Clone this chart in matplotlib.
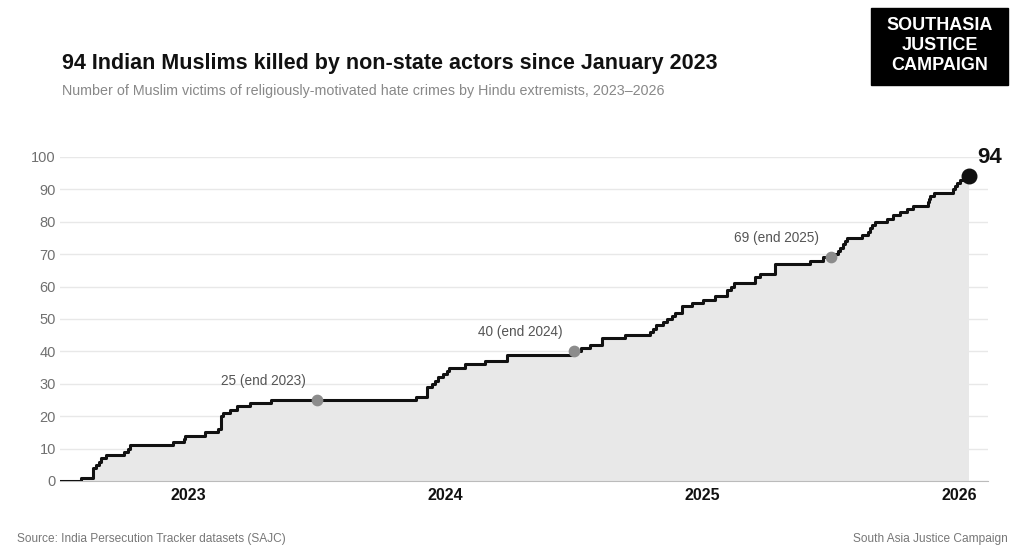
import matplotlib.pyplot as plt
import matplotlib.patches as patches
import numpy as np

plt.rcParams['font.family'] = ['Liberation Sans', 'DejaVu Sans']

# dates of each new victim (decimal year) and the running total after it
dates = [2023.080, 2023.130, 2023.142, 2023.150, 2023.161, 2023.181, 2023.251, 2023.263,
         2023.274, 2023.438, 2023.481, 2023.488, 2023.566, 2023.617, 2023.625, 2023.636,
         2023.663, 2023.691, 2023.741, 2023.823,
         2024.387, 2024.430, 2024.449, 2024.461, 2024.473, 2024.492, 2024.508, 2024.516,
         2024.578, 2024.656, 2024.741, 2024.998,
         2025.029, 2025.064, 2025.111, 2025.200, 2025.298, 2025.309, 2025.321, 2025.348,
         2025.364, 2025.383, 2025.395, 2025.422, 2025.461, 2025.504, 2025.551, 2025.597,
         2025.613, 2025.625, 2025.706, 2025.726, 2025.784, 2025.920, 2025.971,
         2026.018, 2026.029, 2026.037, 2026.049, 2026.056, 2026.064, 2026.123, 2026.146,
         2026.154, 2026.161, 2026.173, 2026.220, 2026.243, 2026.270, 2026.298, 2026.321,
         2026.379, 2026.383, 2026.387, 2026.401, 2026.477, 2026.484, 2026.492, 2026.504,
         2026.530]
totals = [1, 4, 5, 6, 7, 8, 9, 10,
          11, 12, 13, 14, 15, 16, 20, 21,
          22, 23, 24, 25,
          26, 29, 30, 31, 32, 33, 34, 35,
          36, 37, 39, 40,
          41, 42, 44, 45, 46, 47, 48, 49,
          50, 51, 52, 54, 55, 56, 57, 59,
          60, 61, 63, 64, 67, 68, 69,
          70, 71, 72, 73, 74, 75, 76, 77,
          78, 79, 80, 81, 82, 83, 84, 85,
          86, 87, 88, 89, 90, 91, 92, 93,
          94]
start_date = 2023.0
end_date = 2026.539

# year-end markers
mark_dates = [2024.0, 2025.0, 2026.0]
mark_values = [25, 40, 69]
mark_labels = ["25 (end 2023)", "40 (end 2024)", "69 (end 2025)"]

year_ticks = [2023.5, 2024.5, 2025.5, 2026.5]
year_labels = ["2023", "2024", "2025", "2026"]

x = [start_date] + dates + [end_date]
y = [0] + totals + [totals[-1]]

fig = plt.figure(figsize=(10.24, 5.6), dpi=100)
ax = fig.add_axes([60 / 1024, 1 - 481 / 560, 928 / 1024, 324 / 560])

ax.fill_between(x, y, step='post', color='#e8e8e8', lw=0, zorder=1)
ax.step(x, y, where='post', color='#111111', lw=2.2, zorder=3)

# year-end points
ax.scatter(mark_dates, mark_values, s=55, color='#8c8c8c', zorder=4, clip_on=False)
for d, v, t in zip(mark_dates, mark_values, mark_labels):
    ax.annotate(t, (d, v), xytext=(-8, 9), textcoords='offset points',
                ha='right', va='bottom', fontsize=9.8, color='#555555')

# last point
ax.scatter([end_date], [totals[-1]], s=110, color='#111111', zorder=5, clip_on=False)
ax.annotate(str(totals[-1]), (end_date, totals[-1]), xytext=(6, 6), textcoords='offset points',
            ha='left', va='bottom', fontsize=16, fontweight='bold', color='#111111',
            annotation_clip=False)

ax.set_xlim(2023.0, 2026.613)
ax.set_ylim(0, 100)
ax.set_yticks(np.arange(0, 101, 10))
ax.set_xticks(year_ticks)
ax.set_xticklabels(year_labels, fontsize=11.5, fontweight='bold', color='#111111')
ax.tick_params(axis='y', length=0, labelsize=10.5, labelcolor='#707070', pad=3)
ax.tick_params(axis='x', length=0, pad=5)
ax.grid(axis='y', color='#e8e8e8', lw=1, zorder=0)
for s in ['top', 'right', 'left']:
    ax.spines[s].set_visible(False)
ax.spines['bottom'].set_color('#bbbbbb')
ax.spines['bottom'].set_zorder(2)

fig.text(62 / 1024, 1 - 64 / 560, "94 Indian Muslims killed by non-state actors since January 2023",
         fontsize=15.5, fontweight='bold', color='#111111', va='center')
fig.text(62 / 1024, 1 - 91 / 560,
         "Number of Muslim victims of religiously-motivated hate crimes by Hindu extremists, 2023\u20132026",
         fontsize=10.3, color='#888888', va='center')
fig.text(17 / 1024, 1 - 539 / 560, "Source: India Persecution Tracker datasets (SAJC)",
         fontsize=8.6, color='#777777', va='center')
fig.text(1008 / 1024, 1 - 539 / 560, "South Asia Justice Campaign",
         fontsize=8.6, color='#777777', va='center', ha='right')

# logo
fig.patches.append(patches.Rectangle((871 / 1024, 1 - 85 / 560), 137 / 1024, 77 / 560,
                                     transform=fig.transFigure, color='black'))
for line, ypx in zip(["SOUTHASIA", "JUSTICE", "CAMPAIGN"], [25, 45, 65]):
    fig.text(940 / 1024, 1 - ypx / 560, line, fontsize=13, fontweight='bold',
             color='white', ha='center', va='center')

fig.savefig('out.png', dpi=100)
